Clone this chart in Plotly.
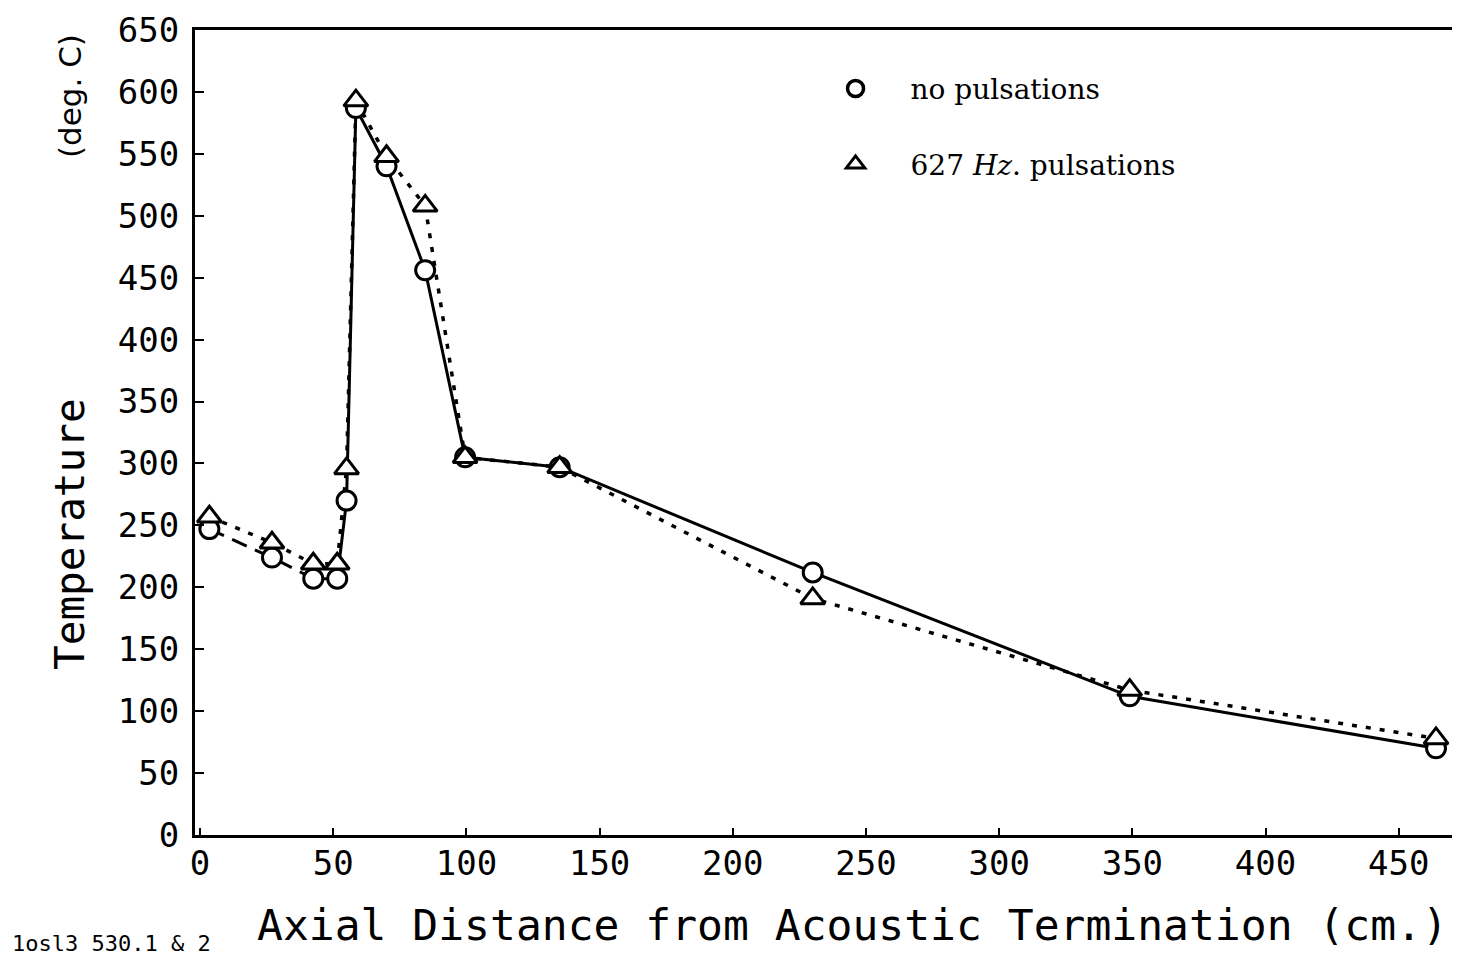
import plotly.graph_objects as go

# ---- data ----
axial_cm = [3.5, 27, 42.5, 51.5, 55, 58.5, 70, 84.5, 99.5, 135, 230, 349, 464]
temp_no_puls = [247, 224, 207, 207, 270, 587, 540, 456, 305, 297, 212, 112, 70]
temp_627hz = [257, 236, 219, 219, 296, 593, 548, 508, 305, 297, 191, 117, 78]

x_ticks = [0, 50, 100, 150, 200, 250, 300, 350, 400, 450]
y_ticks = [0, 50, 100, 150, 200, 250, 300, 350, 400, 450, 500, 550, 600, 650]

series_names = ["no pulsations", "627 <i>Hz</i>. pulsations"]
x_title = "Axial Distance from Acoustic Termination (cm.)"
y_title_main = "Temperature"
y_title_unit = "(deg. C)"
corner_note = "1osl3 530.1 & 2"

PLOT_FONT = "DejaVu Sans Mono"
SERIF = "DejaVu Serif"
INK = "black"

split = 4  # first few circles joined by dashes, rest solid

fig = go.Figure()

# no-pulsation line: dashed start, solid after
fig.add_trace(go.Scatter(
    x=axial_cm[:split], y=temp_no_puls[:split], mode="lines",
    line=dict(color=INK, width=3, dash="16px,9px"), showlegend=False, hoverinfo="skip"))
fig.add_trace(go.Scatter(
    x=axial_cm[split - 1:], y=temp_no_puls[split - 1:], mode="lines",
    line=dict(color=INK, width=3), showlegend=False, hoverinfo="skip"))
# 627 Hz line: dotted
fig.add_trace(go.Scatter(
    x=axial_cm, y=temp_627hz, mode="lines",
    line=dict(color=INK, width=3.5, dash="5px,9px"), showlegend=False, hoverinfo="skip"))

# markers
fig.add_trace(go.Scatter(
    x=axial_cm, y=temp_no_puls, mode="markers",
    marker=dict(symbol="circle", size=19, color="white", line=dict(color=INK, width=3)),
    showlegend=False))
fig.add_trace(go.Scatter(
    x=axial_cm, y=temp_627hz, mode="markers",
    marker=dict(symbol="triangle-up", size=21, color="white", line=dict(color=INK, width=3)),
    showlegend=False))

# legend-only entries (marker symbols only)
fig.add_trace(go.Scatter(
    x=[None], y=[None], mode="markers", name=series_names[0], legendgroup="a",
    marker=dict(symbol="circle", size=17, color="white", line=dict(color=INK, width=3.5))))
fig.add_trace(go.Scatter(
    x=[None], y=[None], mode="markers", name=series_names[1], legendgroup="b",
    marker=dict(symbol="triangle-up", size=17, color="white", line=dict(color=INK, width=3))))

fig.update_layout(
    width=1452, height=950,
    margin=dict(l=187, r=0, t=22, b=123),
    paper_bgcolor="white", plot_bgcolor="white",
    showlegend=True,
    legend=dict(x=0.4787, y=0.958, xanchor="left", yanchor="top",
                font=dict(family=SERIF, size=28, color=INK),
                itemwidth=100, tracegroupgap=36, bgcolor="rgba(0,0,0,0)"),
    xaxis=dict(range=[-1.9, 473], tickvals=x_ticks, ticks="inside", ticklen=7, tickwidth=2,
               tickcolor=INK, showline=True, linecolor=INK, linewidth=3, mirror=True,
               showgrid=False, zeroline=False, ticklabelstandoff=-4,
               tickfont=dict(family=PLOT_FONT, size=34, color=INK)),
    yaxis=dict(range=[0, 650], tickvals=y_ticks, ticks="inside", ticklen=9, tickwidth=2,
               tickcolor=INK, showline=True, linecolor=INK, linewidth=3, mirror=False,
               showgrid=False, zeroline=False, ticklabelstandoff=6,
               tickfont=dict(family=PLOT_FONT, size=34, color=INK)),
    annotations=[
        dict(text=x_title, xref="paper", yref="paper", x=0.52, y=0, yshift=-90,
             xanchor="center", yanchor="middle", showarrow=False,
             font=dict(family=PLOT_FONT, size=43, color=INK)),
        dict(text=y_title_main, xref="paper", yref="paper", x=0, xshift=-125,
             y=0.374, xanchor="center", yanchor="middle", textangle=-90, showarrow=False,
             font=dict(family=PLOT_FONT, size=41, color=INK)),
        dict(text=y_title_unit, xref="paper", yref="paper", x=0, xshift=-125,
             y=0.918, xanchor="center", yanchor="middle", textangle=-90, showarrow=False,
             font=dict(family="DejaVu Sans", size=31, color=INK)),
        dict(text=corner_note, xref="paper", yref="paper", x=0, xshift=-185,
             y=0, yshift=-108, xanchor="left", yanchor="middle", showarrow=False,
             font=dict(family=PLOT_FONT, size=22, color=INK)),
    ],
)

fig.write_html("out.html")
